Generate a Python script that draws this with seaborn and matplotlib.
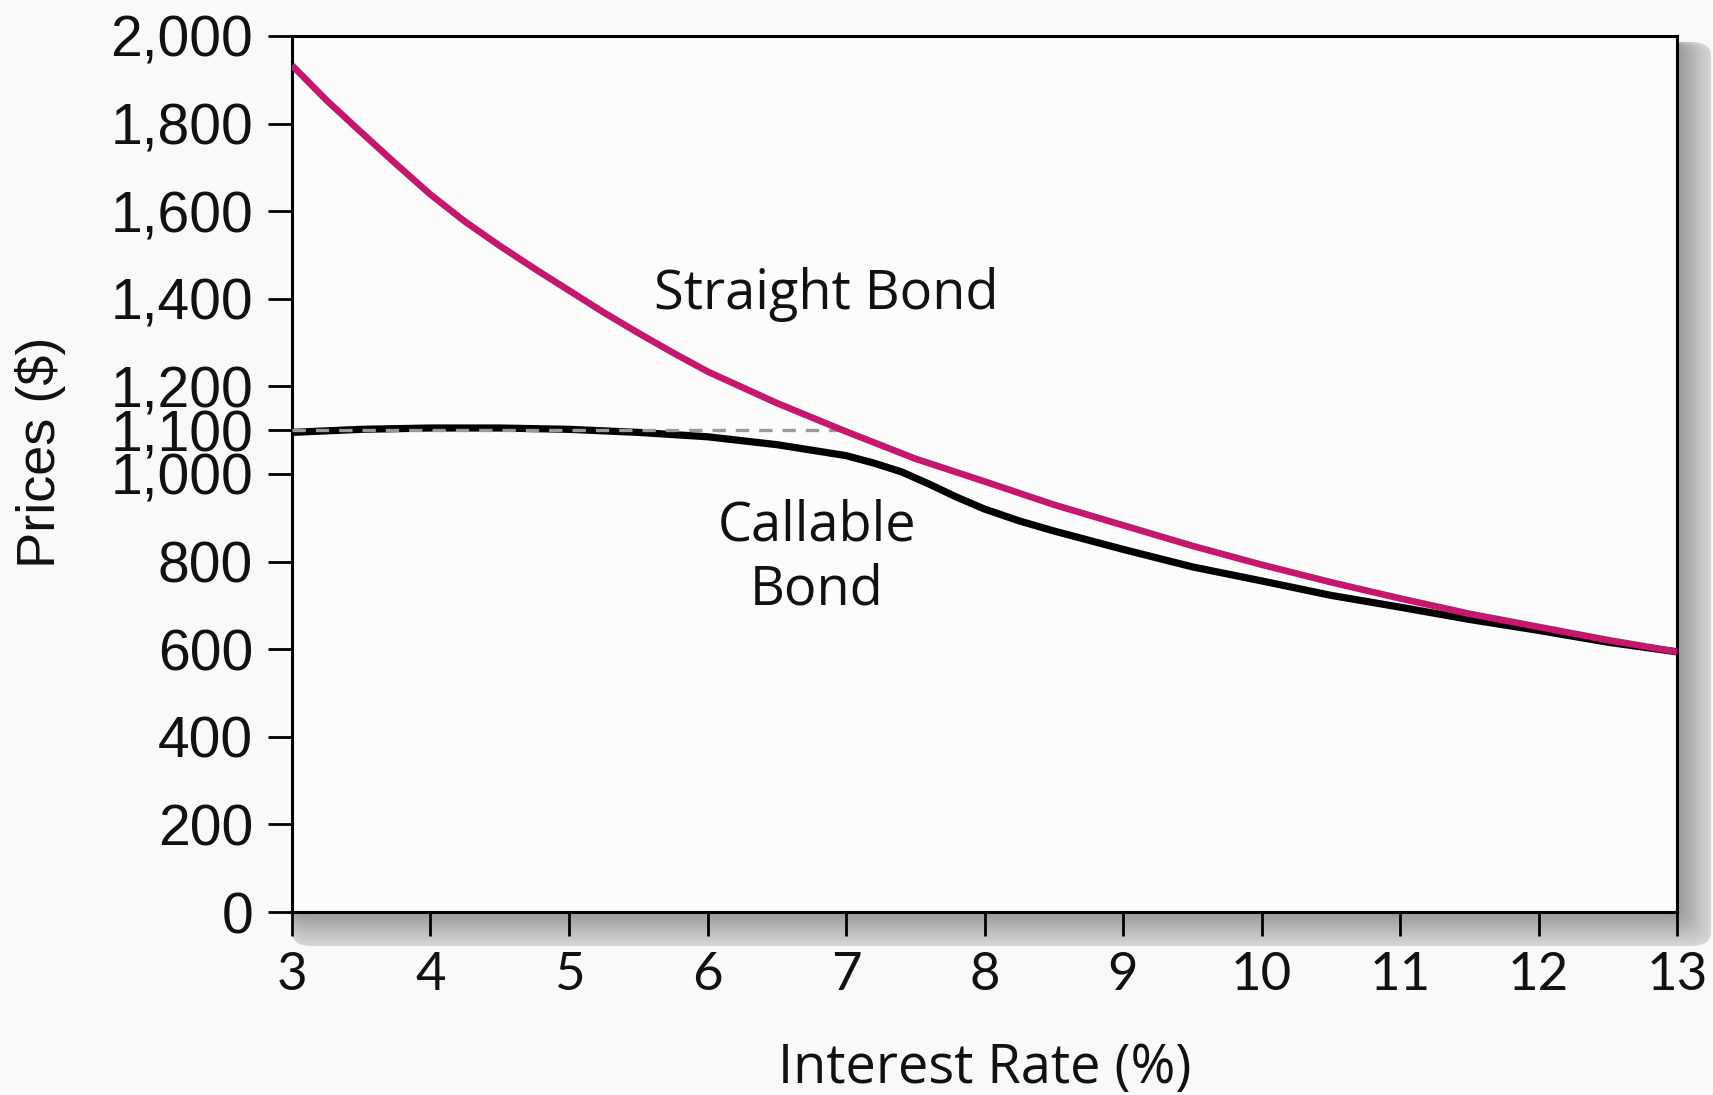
import numpy as np
import pandas as pd
import matplotlib
matplotlib.use("Agg")
import matplotlib.pyplot as plt
from matplotlib.patches import FancyBboxPatch
from matplotlib.ticker import FuncFormatter
import seaborn as sns

# ---- data ----
rates = [3.0, 3.25, 3.5, 3.75, 4.0, 4.25, 4.5, 4.75, 5.0, 5.25, 5.5, 5.75, 6.0, 6.5,
         7.0, 7.5, 8.0, 8.5, 9.0, 9.5, 10.0, 10.5, 11.0, 11.5, 12.0, 12.5, 13.0]
straight_bond = [1933, 1853, 1780, 1708, 1638, 1576, 1521, 1469, 1419, 1369, 1322, 1277,
                 1234, 1162, 1097, 1035, 983, 930, 883, 836, 793, 753, 716, 681, 651,
                 621, 594]
callable_rates = [3.0, 3.5, 4.0, 4.5, 5.0, 5.5, 6.0, 6.5, 7.0, 7.2, 7.4, 7.6, 7.8, 8.0,
                  8.25, 8.5, 9.0, 9.5, 10.0, 10.5, 11.0, 11.5, 12.0, 12.5, 13.0]
callable_bond = [1095, 1102, 1105, 1105, 1102, 1095, 1085, 1067, 1042, 1025, 1005, 977,
                 947, 920, 893, 870, 828, 788, 756, 723, 696, 668, 643, 616, 594]
call_price_x = [3, 7]
call_price_y = [1100, 1100]
y_ticks = [0, 200, 400, 600, 800, 1000, 1100, 1200, 1400, 1600, 1800, 2000]
x_ticks = [3, 4, 5, 6, 7, 8, 9, 10, 11, 12, 13]

sns.set_theme(style="white")
plt.rcParams['font.family'] = ['Liberation Sans', 'DejaVu Sans']
ANN = ['Open Sans', 'DejaVu Sans']

W, H = 1713, 1095
fig = plt.figure(figsize=(W / 100, H / 100), dpi=100)
fig.patch.set_facecolor('#f9f9f9')

L, R, T, B = 292, 1677, 36, 912
ax = fig.add_axes([L / W, 1 - B / H, (R - L) / W, (B - T) / H])
ax.set_facecolor('#fcfcfc')

# drop shadow (right and below the plot box)
for k in range(34, 0, -2):
    shade = 0.58 + 0.26 * (k / 34)
    p = FancyBboxPatch((L / W, 1 - (B + k) / H), (R + k - L) / W, (B + k - T - 6) / H,
                       boxstyle="round,pad=0,rounding_size=0.012",
                       transform=fig.transFigure, facecolor=(shade, shade, shade),
                       edgecolor='none', zorder=0)
    fig.add_artist(p)
ax.set_zorder(2)

df_s = pd.DataFrame({'rate': rates, 'price': straight_bond})
df_c = pd.DataFrame({'rate': callable_rates, 'price': callable_bond})
df_d = pd.DataFrame({'rate': call_price_x, 'price': call_price_y})

sns.lineplot(data=df_c, x='rate', y='price', ax=ax, color='black', lw=5.2, zorder=3)
sns.lineplot(data=df_d, x='rate', y='price', ax=ax, color='#999999', lw=2.4,
             linestyle=(0, (4, 3)), zorder=4)
sns.lineplot(data=df_s, x='rate', y='price', ax=ax, color='#c5176d', lw=4.8, zorder=5)
for ln in ax.lines:
    ln.set_solid_joinstyle('round')
    ln.set_solid_capstyle('butt')

ax.set_xlim(3, 13)
ax.set_ylim(0, 2000)
ax.set_xticks(x_ticks)
ax.set_yticks(y_ticks)
ax.yaxis.set_major_formatter(FuncFormatter(lambda v, p: f"{int(v):,}"))

for s in ax.spines.values():
    s.set_visible(True)
    s.set_color('black')
    s.set_linewidth(2.2)

ax.tick_params(axis='both', which='both', direction='out', length=17, width=2.0,
               color='black', bottom=True, left=True)
ax.tick_params(axis='y', labelsize=41, pad=11, labelcolor='#111111')
ax.tick_params(axis='x', labelsize=38, pad=12, labelcolor='#111111')
for lab in ax.get_xticklabels():
    lab.set_family(['Lato', 'DejaVu Sans'])

ax.set_xlabel('Interest Rate (%)', fontsize=39, family=ANN,
              labelpad=30, color='#111111')
ax.set_ylabel('Prices ($)', fontsize=39, color='#111111')
ax.yaxis.set_label_coords(-0.163, 0.525)

ax.text(6.86, 1410, 'Straight Bond', fontsize=39, family=ANN,
        ha='center', va='center', color='#111111')
ax.text(6.79, 808, 'Callable\nBond', fontsize=39, family=ANN,
        ha='center', va='center', color='#111111', linespacing=1.2)

fig.savefig('out.png', dpi=100, facecolor=fig.get_facecolor())
